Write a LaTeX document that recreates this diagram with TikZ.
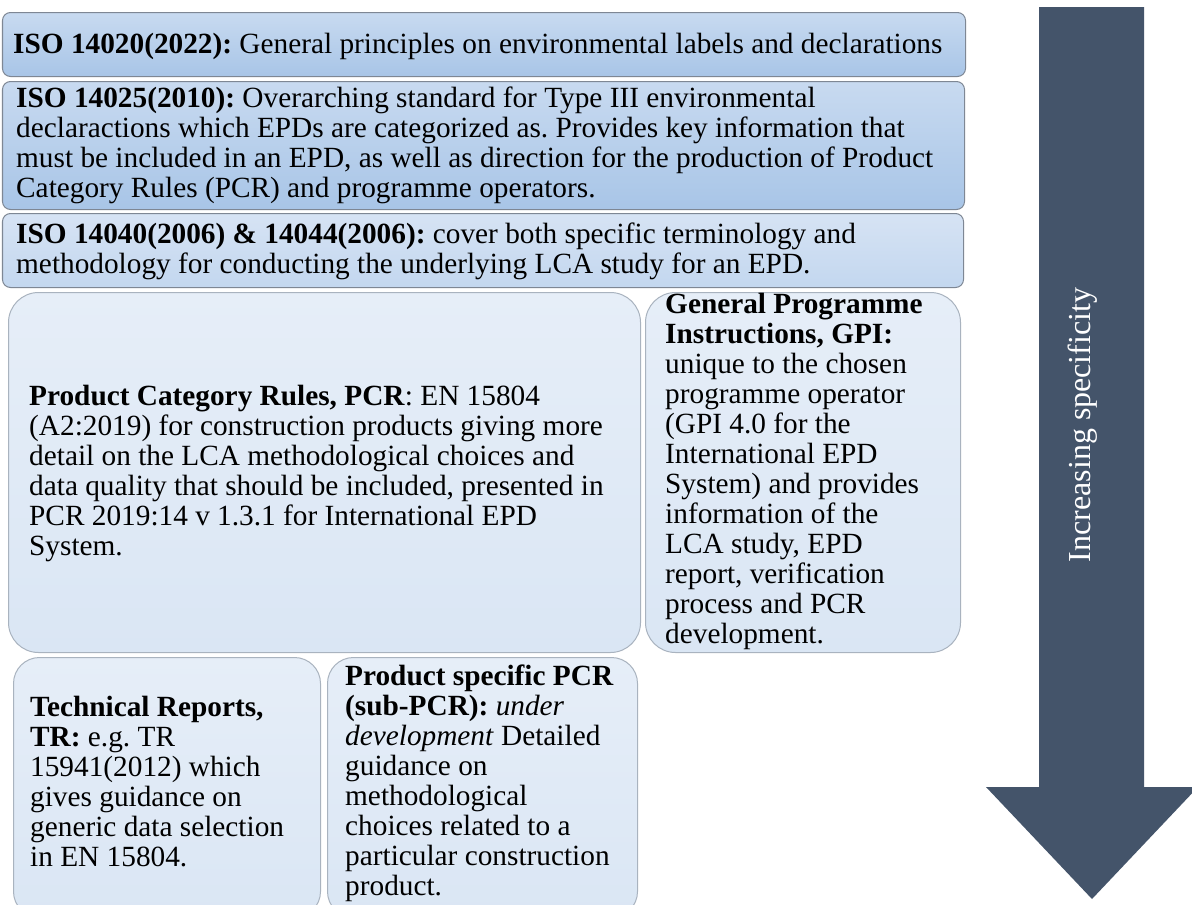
\documentclass[tikz,border=0pt]{standalone}
\usepackage{fontspec}
\setmainfont{Liberation Serif}
\frenchspacing
\definecolor{darkTop}{HTML}{C8DAF0}
\definecolor{darkBot}{HTML}{A8C5E7}
\definecolor{midTop}{HTML}{D6E3F4}
\definecolor{midBot}{HTML}{C3D7EF}
\definecolor{liteTop}{HTML}{E6EEF8}
\definecolor{liteBot}{HTML}{DAE6F4}
\definecolor{edgeDark}{HTML}{7E8794}
\definecolor{edgeLite}{HTML}{A9B3BF}
\definecolor{arrowCol}{HTML}{44546A}
\begin{document}
\frenchspacing
\begin{tikzpicture}[x=1bp,y=-1bp,
  boxbase/.style={anchor=north west, inner sep=0, line width=1bp},
  darkbox/.style={boxbase, draw=edgeDark, rounded corners=8bp, top color=darkTop, bottom color=darkBot},
  midbox/.style={boxbase, draw=edgeDark, rounded corners=8bp, top color=midTop, bottom color=midBot},
  litebox/.style={boxbase, draw=edgeLite, rounded corners=30bp, top color=liteTop, bottom color=liteBot},
  txt/.style={anchor=north west, inner sep=0, align=left, font=\fontsize{29.3bp}{30bp}\selectfont}
]
\useasboundingbox (0,0) rectangle (1192,905);
\fill[white] (0,0) rectangle (1192,905);

% boxes
\node[darkbox, minimum width=963bp, minimum height=64bp] (b1) at (2,12) {};
\node[darkbox, minimum width=962bp, minimum height=128bp] (b2) at (2,81) {};
\node[midbox, minimum width=961bp, minimum height=74bp] (b3) at (2,213) {};
\node[litebox, minimum width=632bp, minimum height=360bp] (pcr) at (8,292) {};
\node[litebox, minimum width=315bp, minimum height=360bp] (gpi) at (645,292) {};
\node[litebox, rounded corners=26bp, minimum width=307bp, minimum height=260bp] (tr) at (13,657) {};
\node[litebox, rounded corners=26bp, minimum width=310bp, minimum height=260bp] (sub) at (327,657) {};

% texts
\node[txt] (t1) at (13,32) {\strut\textbf{ISO 14020(2022):} General principles on environmental labels and declarations};
\node[txt] (t2) at (16,86) {\strut\textbf{ISO 14025(2010):} Overarching standard for Type III environmental\\
declaractions which EPDs are categorized as. Provides key information that\\
must be included in an EPD, as well as direction for the production of Product\\
Category Rules (PCR) and programme operators.};
\node[txt] (t3) at (16,222) {\strut\textbf{ISO 14040(2006) \& 14044(2006):} cover both specific terminology and\\
methodology for conducting the underlying LCA study for an EPD.};
\node[txt] (t4) at (29,384) {\strut\textbf{Product Category Rules, PCR}: EN 15804\\
(A2:2019) for construction products giving more\\
detail on the LCA methodological choices and\\
data quality that should be included, presented in\\
PCR 2019:14 v 1.3.1 for International EPD\\
System.};
\node[txt] (t5) at (665,292) {\strut\textbf{General Programme}\\
\textbf{Instructions, GPI:}\\
unique to the chosen\\
programme operator\\
(GPI 4.0 for the\\
International EPD\\
System) and provides\\
information of the\\
LCA study, EPD\\
report, verification\\
process and PCR\\
development.};
\node[txt] (t6) at (30,695) {\strut\textbf{Technical Reports,}\\
\textbf{TR:} e.g. TR\\
15941(2012) which\\
gives guidance on\\
generic data selection\\
in EN 15804.};
\node[txt] (t7) at (345,664) {\strut\textbf{Product specific PCR}\\
\textbf{(sub-PCR):} \textit{under}\\
\textit{development} Detailed\\
guidance on\\
methodological\\
choices related to a\\
particular construction\\
product.};

% arrow
\fill[arrowCol] (1039,7) -- (1144,7) -- (1144,787) -- (1198,787) -- (1092,899) -- (986,787) -- (1039,787) -- cycle;
\node[rotate=90, anchor=base, inner sep=0, text=white, font=\fontsize{32bp}{36bp}\selectfont] (lbl) at (1090,425) {Increasing specificity};
\end{tikzpicture}
\end{document}
